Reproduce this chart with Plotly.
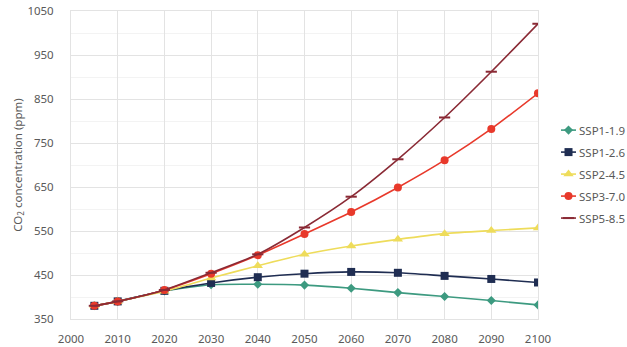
import plotly.graph_objects as go

# Projected atmospheric CO2 concentration by scenario
years = [2005, 2010, 2020, 2030, 2040, 2050, 2060, 2070, 2080, 2090, 2100]

ssp119 = [380, 390, 414, 428, 429, 427, 420, 410, 401, 392, 382]
ssp126 = [380, 390, 414, 432, 445, 453, 457, 455, 448, 441, 433]
ssp245 = [380, 390, 413, 443, 471, 497, 516, 531, 544, 551, 557]
ssp370 = [380, 390, 416, 453, 495, 543, 593, 649, 711, 782, 863]
ssp585 = [380, 390, 416, 455, 497, 558, 628, 713, 808, 912, 1021]

names = ["SSP1-1.9", "SSP1-2.6", "SSP2-4.5", "SSP3-7.0", "SSP5-8.5"]
colors = ["#3d9a80", "#1f2d52", "#eedc5b", "#e8392b", "#8a2a35"]
symbols = ["diamond", "square", "triangle-up", "circle", "line-ew"]
sizes = [7, 8, 9, 8, 8]
series = [ssp119, ssp126, ssp245, ssp370, ssp585]

x_ticks = list(range(2000, 2101, 10))
y_ticks = list(range(350, 1051, 100))
y_minor = list(range(400, 1001, 100))

TEXT = "#595959"
FONT = "Noto Sans"


def make_marker(col, sym, sz):
    m = dict(color=col, symbol=sym, size=sz)
    if sym == "line-ew":
        m["line"] = dict(color=col, width=2)
    return m


fig = go.Figure()
for name, vals, col, sym, sz in zip(names, series, colors, symbols, sizes):
    fig.add_trace(go.Scatter(
        x=years, y=vals, name=name, mode="lines+markers",
        line=dict(color=col, width=1.6, shape="spline", smoothing=0.6),
        marker=make_marker(col, sym, sz), showlegend=False,
    ))

# Compact legend: short line-and-marker keys on a small side axis
for row, (name, col, sym, sz) in enumerate(zip(names, colors, symbols, sizes)):
    fig.add_trace(go.Scatter(
        x=[0, 0.5, 1], y=[row, row, row], mode="lines",
        line=dict(color=col, width=1.6), xaxis="x2", yaxis="y2",
        showlegend=False, hoverinfo="skip",
    ))
    fig.add_trace(go.Scatter(
        x=[0.5], y=[row], mode="markers", marker=make_marker(col, sym, sz),
        xaxis="x2", yaxis="y2", showlegend=False, hoverinfo="skip",
    ))
    fig.add_annotation(
        x=1, y=row, xref="x2", yref="y2", text=name, showarrow=False,
        xanchor="left", yanchor="middle", xshift=1,
        font=dict(family=FONT, size=11.5, color=TEXT),
    )

fig.update_layout(
    width=627, height=347,
    margin=dict(l=71, r=0, t=11, b=28, autoexpand=False),
    paper_bgcolor="white", plot_bgcolor="white",
    font=dict(family=FONT, size=11.5, color=TEXT),
    showlegend=False,
    xaxis=dict(
        domain=[0, 0.8399], range=[2000, 2100], tickvals=x_ticks,
        showgrid=True, gridcolor="#e3e3e3", gridwidth=1, zeroline=False,
        showline=True, linecolor="#e3e3e3", mirror=True, ticks="",
        ticklabelstandoff=9, tickfont=dict(size=11.5, color=TEXT),
    ),
    yaxis=dict(
        range=[350, 1050], tickvals=y_ticks,
        showgrid=True, gridcolor="#e3e3e3", gridwidth=1, zeroline=False,
        showline=True, linecolor="#e3e3e3", mirror=True, ticks="",
        minor=dict(tickvals=y_minor, showgrid=True, gridcolor="#f3f3f3"),
        ticklabelstandoff=14,
        title=dict(text="CO<sub>2</sub> concentration (ppm)", standoff=2,
                   font=dict(size=11.5, color=TEXT)),
        tickfont=dict(size=11.5, color=TEXT),
    ),
    xaxis2=dict(domain=[0.8813, 0.9083], range=[0, 1], visible=False,
                anchor="y2", fixedrange=True),
    yaxis2=dict(domain=[0.292, 0.649], range=[4.5, -0.5], visible=False,
                anchor="x2", fixedrange=True),
)

fig.write_html("out.html")
